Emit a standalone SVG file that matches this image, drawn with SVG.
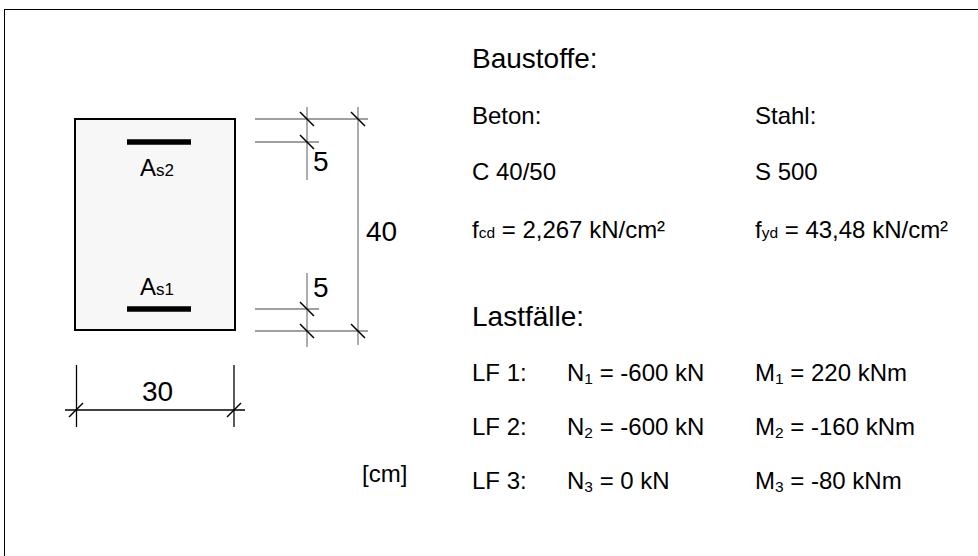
<svg xmlns="http://www.w3.org/2000/svg" width="978" height="556" viewBox="0 0 978 556">
<style>
text{font-family:"Liberation Sans",Arial,sans-serif;fill:#000}
.big{font-size:28px}
.t{font-size:24px}
.dim{font-size:28px}
.sub{font-size:15.5px}
.ext{stroke:#808080;stroke-width:1.3;fill:none}
.tick{stroke:#000;stroke-width:1.5}
.bar{stroke:#000;stroke-width:5.5}
.dl{stroke:#000;stroke-width:1.3}
</style>
<rect x="4.5" y="9.5" width="990" height="560" fill="#fff" stroke="#000" stroke-width="1"/>
<g id="section">
<rect x="75" y="119" width="160" height="211" fill="#f7f7f7" stroke="#000" stroke-width="2"/>
<line class="bar" x1="127" y1="142" x2="191" y2="142"/>
<line class="bar" x1="127" y1="309" x2="191" y2="309"/>
<text x="140" y="176" font-size="24">A<tspan font-size="17">s2</tspan></text>
<text x="140" y="295" font-size="24">A<tspan font-size="17">s1</tspan></text>
</g>
<g id="connectors">
<line class="ext" x1="255" y1="119" x2="368" y2="119"/>
<line class="ext" x1="255" y1="142" x2="319" y2="142"/>
<line class="ext" x1="255" y1="309" x2="319" y2="309"/>
<line class="ext" x1="255" y1="331" x2="368" y2="331"/>
<line class="ext" x1="307" y1="107" x2="307" y2="180"/>
<line class="ext" x1="307" y1="273" x2="307" y2="347"/>
<line class="ext" x1="358" y1="107" x2="358" y2="345"/>
<line class="tick" x1="300" y1="112" x2="314" y2="126"/>
<line class="tick" x1="300" y1="135" x2="314" y2="149"/>
<line class="tick" x1="300" y1="302" x2="314" y2="316"/>
<line class="tick" x1="300" y1="324" x2="314" y2="338"/>
<line class="tick" x1="351" y1="112" x2="365" y2="126"/>
<line class="tick" x1="351" y1="324" x2="365" y2="338"/>
<line class="dl" x1="76.5" y1="365" x2="76.5" y2="427"/>
<line class="dl" x1="234" y1="365" x2="234" y2="427"/>
<line class="dl" x1="65" y1="410" x2="245" y2="410"/>
<line class="tick" x1="69" y1="417" x2="83" y2="403"/>
<line class="tick" x1="227" y1="417" x2="241" y2="403"/>
</g>
<g id="dims">
<text class="dim" x="313" y="171">5</text>
<text class="dim" x="313" y="297">5</text>
<text class="dim" x="366" y="241">40</text>
<text class="dim" x="157.5" y="400.5" text-anchor="middle">30</text>
<text x="362" y="482" font-size="24">[cm]</text>
</g>
<g id="materials">
<text class="big" x="472" y="68">Baustoffe:</text>
<text class="t" x="472" y="124">Beton:</text>
<text class="t" x="755" y="124">Stahl:</text>
<text class="t" x="472" y="180">C 40/50</text>
<text class="t" x="755" y="180">S 500</text>
<text class="t" x="472" y="238">f<tspan class="sub">cd</tspan> = 2,267 kN/cm²</text>
<text class="t" x="755" y="238">f<tspan class="sub">yd</tspan> = 43,48 kN/cm²</text>
</g>
<g id="loads">
<text class="big" x="472" y="326">Lastfälle:</text>
<text class="t" x="472" y="381">LF 1:</text>
<text class="t" x="567" y="381">N<tspan class="sub" dy="3">1</tspan><tspan dy="-3"> = -600 kN</tspan></text>
<text class="t" x="755" y="381">M<tspan class="sub" dy="3">1</tspan><tspan dy="-3"> = 220 kNm</tspan></text>
<text class="t" x="472" y="435">LF 2:</text>
<text class="t" x="567" y="435">N<tspan class="sub" dy="3">2</tspan><tspan dy="-3"> = -600 kN</tspan></text>
<text class="t" x="755" y="435">M<tspan class="sub" dy="3">2</tspan><tspan dy="-3"> = -160 kNm</tspan></text>
<text class="t" x="472" y="489">LF 3:</text>
<text class="t" x="567" y="489">N<tspan class="sub" dy="3">3</tspan><tspan dy="-3"> = 0 kN</tspan></text>
<text class="t" x="755" y="489">M<tspan class="sub" dy="3">3</tspan><tspan dy="-3"> = -80 kNm</tspan></text>
</g>
</svg>
